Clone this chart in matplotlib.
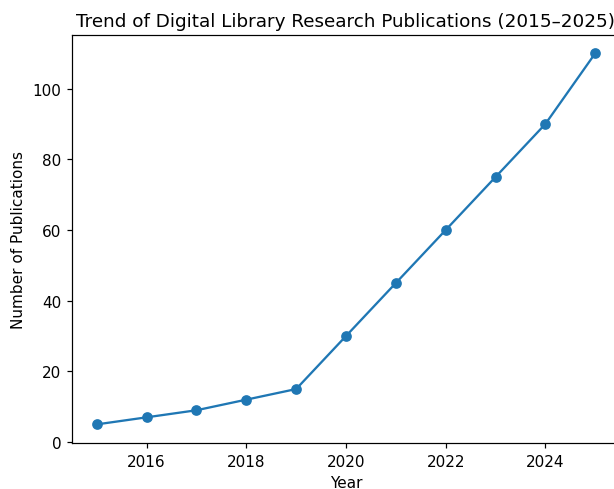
import matplotlib.pyplot as plt

# Publication counts per year
years = [2015, 2016, 2017, 2018, 2019, 2020, 2021, 2022, 2023, 2024, 2025]
publications = [5, 7, 9, 12, 15, 30, 45, 60, 75, 90, 110]

DPI = 110
fig = plt.figure(figsize=(614 / DPI, 490 / DPI), dpi=DPI)
ax = fig.add_subplot(111)
# the reference is cropped on the right, so the axes run past the edge
fig.subplots_adjust(left=0.117, right=1.01, top=0.927, bottom=0.094)

ax.plot(years, publications, marker='o', color='#1f77b4')
ax.set_title('Trend of Digital Library Research Publications (2015–2025)')
ax.set_xlabel('Year')
ax.set_ylabel('Number of Publications')

fig.savefig('out.png', dpi=DPI)
